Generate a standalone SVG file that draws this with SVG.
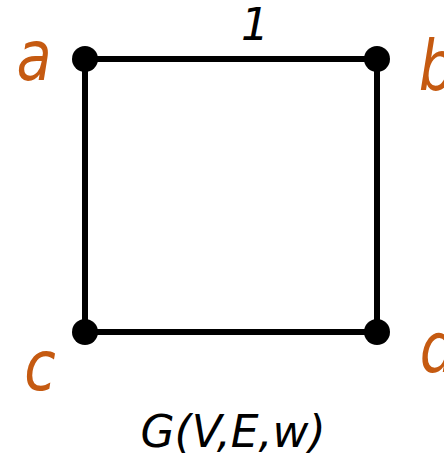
<svg xmlns="http://www.w3.org/2000/svg" width="444" height="458" viewBox="0 0 444 458">
<style>
.edge{stroke:#000;stroke-width:6;fill:none}
.node{fill:#000}
.lbl{font-family:"DejaVu Sans",sans-serif;font-style:italic;font-weight:300;fill:#C55A11;font-size:70px;text-anchor:middle}
.txt{font-family:"DejaVu Sans",sans-serif;font-style:italic;font-weight:300;fill:#000;font-size:44px;text-anchor:middle}
</style>
<rect width="444" height="458" fill="#fff"/>
<g id="edges">
<line class="edge" x1="85" y1="59" x2="377" y2="59"/>
<line class="edge" x1="85" y1="59" x2="85" y2="332"/>
<line class="edge" x1="377" y1="59" x2="377" y2="332"/>
<line class="edge" x1="85" y1="332" x2="377" y2="332"/>
<text class="txt" x="255" y="40">1</text>
</g>
<g id="a"><circle class="node" cx="85" cy="59" r="13"/><text class="lbl" transform="translate(34 80) scale(0.82 1)">a</text></g>
<g id="b"><circle class="node" cx="377" cy="59" r="13"/><text class="lbl" transform="translate(437 90) scale(0.82 1)">b</text></g>
<g id="c"><circle class="node" cx="85" cy="332" r="13"/><text class="lbl" transform="translate(40 390) scale(0.82 1)">c</text></g>
<g id="d"><circle class="node" cx="377" cy="332" r="13"/><text class="lbl" transform="translate(438 372) scale(0.82 1)">d</text></g>
<text class="txt" x="233" y="447">G(V,E,w)</text>
</svg>
